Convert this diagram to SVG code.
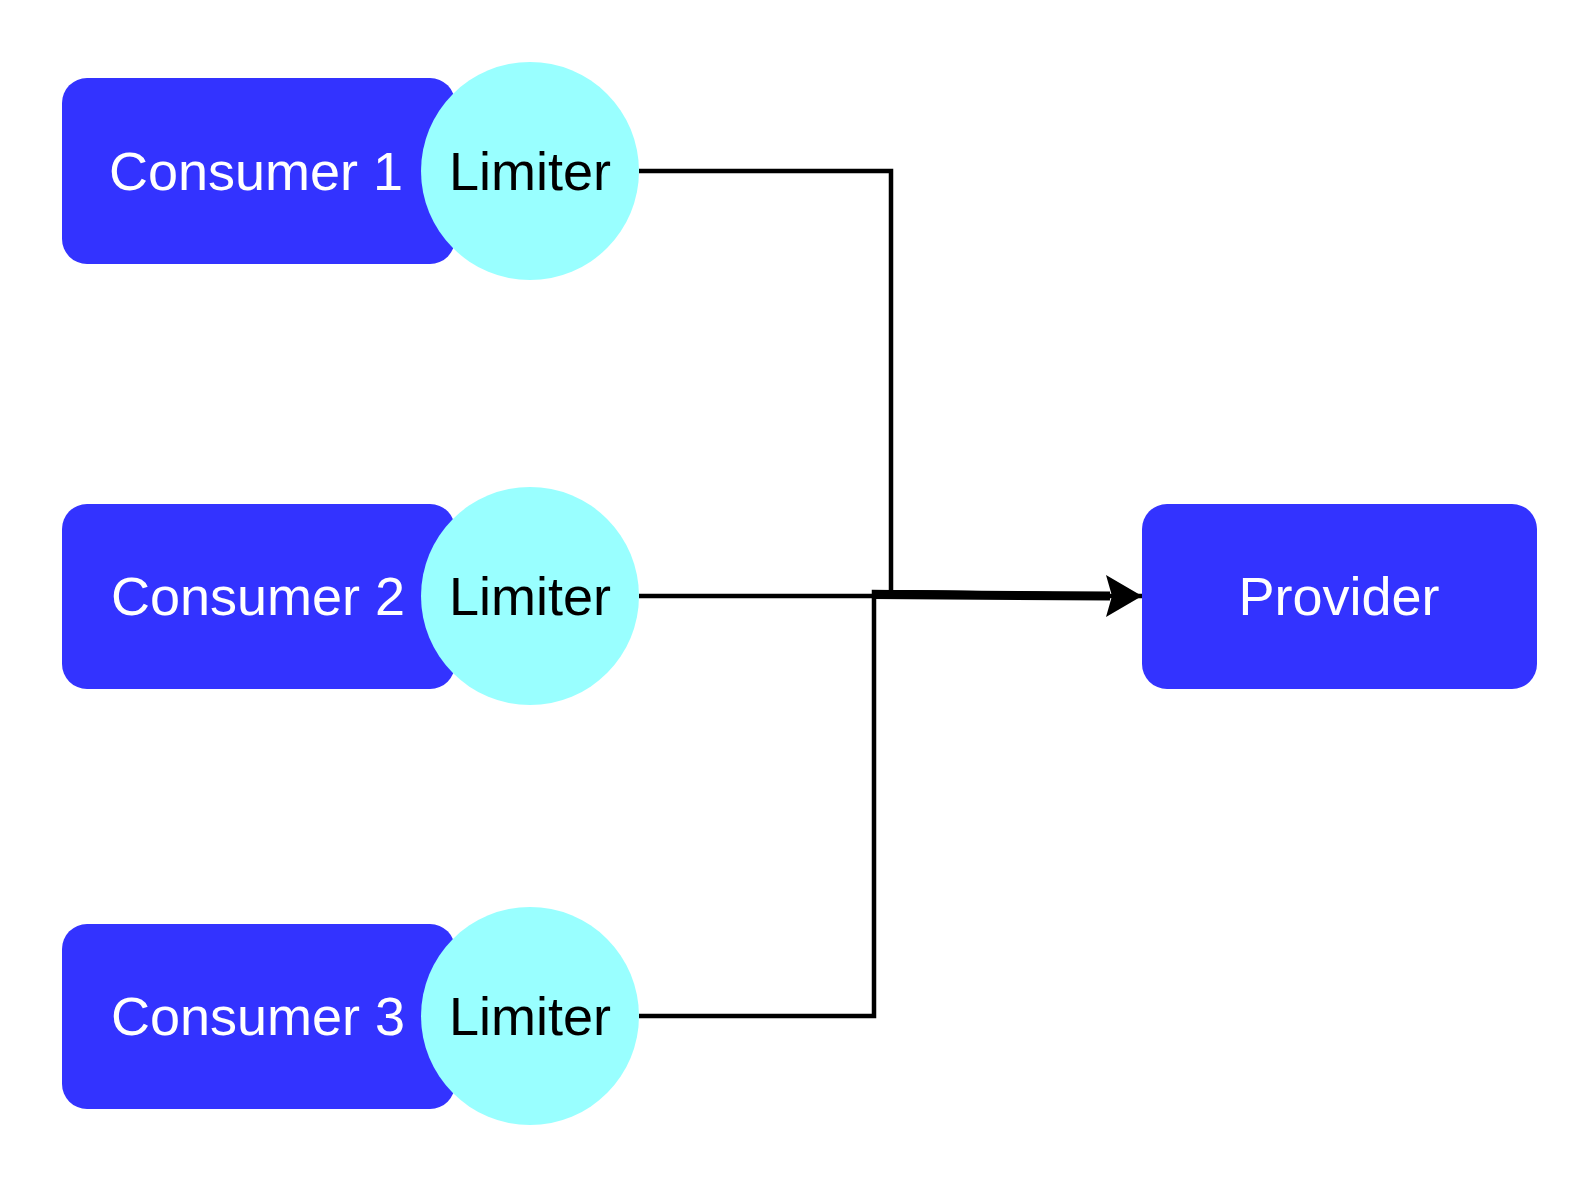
<svg xmlns="http://www.w3.org/2000/svg" width="1596" height="1185" viewBox="0 0 1596 1185">
<defs>
<style>
.box{fill:#3333FF;}
.lim{fill:#99FFFF;}
.wt{font-family:"Liberation Sans",Arial,sans-serif;font-size:54px;fill:#FFFFFF;text-anchor:middle;}
.bt{font-family:"Liberation Sans",Arial,sans-serif;font-size:54px;fill:#000000;text-anchor:middle;}
.edge{fill:none;stroke:#000000;stroke-width:4.5;}
</style>
<marker id="arr" markerUnits="userSpaceOnUse" markerWidth="40" markerHeight="44" refX="36" refY="21" orient="auto" viewBox="0 0 40 44">
<path d="M0 0 L36 21 L0 42 L6 21 Z" fill="#000000"/>
</marker>
</defs>
<rect width="1596" height="1185" fill="#FFFFFF"/>
<g id="connectors">
<path class="edge" d="M639 171 H891 V592 L1110 595"/>
<path class="edge" d="M639 1016 H874 V592 L1110 595"/>
<path class="edge" d="M872 594.5 L1110 596" style="stroke-width:9"/>
<path class="edge" d="M639 596 H1142" marker-end="url(#arr)"/>
</g>
<g id="consumer1">
<rect class="box" x="62" y="78" width="393" height="186" rx="25"/>
<text class="wt" x="256" y="190">Consumer 1</text>
</g>
<g id="limiter1">
<circle class="lim" cx="530" cy="171" r="109"/>
<text class="bt" x="530" y="190">Limiter</text>
</g>
<g id="consumer2">
<rect class="box" x="62" y="504" width="393" height="185" rx="25"/>
<text class="wt" x="258" y="615">Consumer 2</text>
</g>
<g id="limiter2">
<circle class="lim" cx="530" cy="596" r="109"/>
<text class="bt" x="530" y="615">Limiter</text>
</g>
<g id="consumer3">
<rect class="box" x="62" y="924" width="393" height="185" rx="25"/>
<text class="wt" x="258" y="1035">Consumer 3</text>
</g>
<g id="limiter3">
<circle class="lim" cx="530" cy="1016" r="109"/>
<text class="bt" x="530" y="1035">Limiter</text>
</g>
<g id="provider">
<rect class="box" x="1142" y="504" width="395" height="185" rx="25"/>
<text class="wt" x="1339" y="615">Provider</text>
</g>
</svg>
